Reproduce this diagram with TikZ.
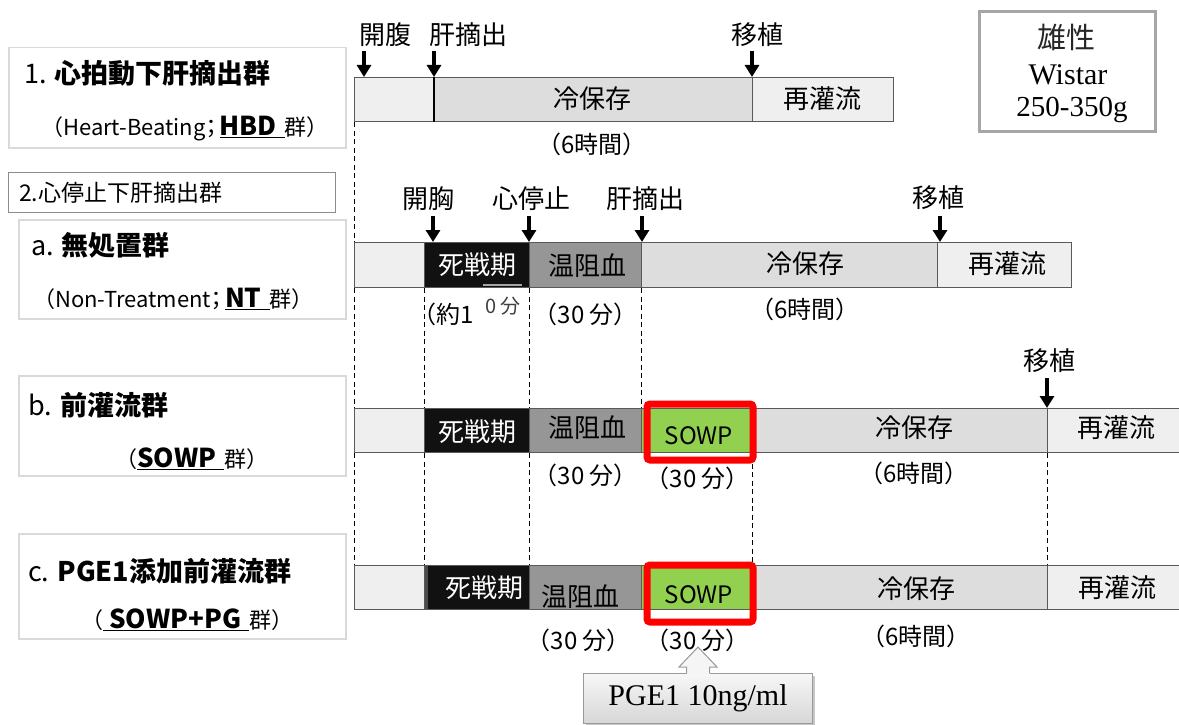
\documentclass[tikz,border=0pt]{standalone}
\usepackage{fontspec}
\setmainfont{Noto Sans CJK JP}[RawFeature=+halt]
\newfontfamily\serifrm{Liberation Serif}
\usetikzlibrary{arrows.meta,calc}
\definecolor{lightseg}{HTML}{EFEFEF}
\definecolor{coldseg}{HTML}{DDDDDD}
\definecolor{warmseg}{HTML}{969696}
\definecolor{agonal}{HTML}{111111}
\definecolor{sowp}{HTML}{92D050}
\definecolor{boxline}{HTML}{D9D9D9}
\newcommand\fsz[1]{\fontsize{#1}{#1}\selectfont}
\begin{document}
\begin{tikzpicture}[x=1pt,y=-1pt,
  seg/.style={draw=black!65, line width=1pt, inner sep=0pt, anchor=north west, minimum height=44pt},
  txt/.style={inner sep=0pt, font=\fsz{26}},
  paren/.style={inner sep=0pt, font=\fsz{24}},
  arr/.style={line width=3.6pt, -{Triangle[width=14pt,length=12pt]}},
  guide/.style={dash pattern=on 5pt off 3.5pt, line width=0.8pt},
  grpbox/.style={draw=boxline, line width=1.5pt, inner sep=0pt, anchor=north west},
  redbox/.style={draw=red, line width=7pt, rounded corners=3pt, inner sep=0pt, anchor=north west},
  head/.style={inner sep=0pt, anchor=west, font=\fsz{27}},
  sub/.style={inner sep=0pt, anchor=west, font=\fsz{22}}
]
\useasboundingbox (0,0) rectangle (1179,725);

% ---------------- left group boxes ----------------
\node[grpbox, minimum width=337pt, minimum height=100pt] (g1) at (8,47) {};
\node[head] (g1h) at (24,73) {1. \bfseries 心拍動下肝摘出群};
\node[sub] (g1s) at (52,129) {（Heart-Beating；\hspace{3pt}\underline{\bfseries\fsz{26}HBD\hspace{8pt}}群）};

\node[draw=black!45, line width=1pt, inner sep=0pt, anchor=north west, minimum width=327pt, minimum height=40pt] (g2) at (8,172) {};
\node[inner sep=0pt, anchor=west, font=\fsz{23}] (g2h) at (19,193) {2.心停止下肝摘出群};

\node[grpbox, minimum width=327pt, minimum height=99pt] (ga) at (18,219) {};
\node[head] (gah) at (31,245) {a. \bfseries 無処置群};
\node[sub] (gas) at (44,299) {（Non-Treatment；\hspace{3pt}\underline{\bfseries\fsz{26}NT\hspace{8pt}}群）};

\node[grpbox, minimum width=327pt, minimum height=100pt] (gb) at (18,375) {};
\node[head] (gbh) at (28,405) {b. \bfseries 前灌流群};
\node[sub] (gbs) at (126,459) {（\underline{\bfseries\fsz{26}SOWP\hspace{8pt}}群）};

\node[grpbox, minimum width=327pt, minimum height=105pt] (gc) at (18,533) {};
\node[head] (gch) at (28,571) {c. \bfseries PGE1添加前灌流群};
\node[sub] (gcs) at (92,620) {（\underline{\bfseries\fsz{26}\hspace{6pt}SOWP+PG\hspace{8pt}}群）};

% ---------------- Wistar box ----------------
\node[draw=black!35, line width=3pt, inner sep=0pt, anchor=north west, minimum width=176pt, minimum height=120pt] (rat) at (978,10) {};
\node[inner sep=0pt, font=\fsz{29}, text=black!85] (rat1) at (1066,37) {雄性};
\node[inner sep=0pt, font=\serifrm\fsz{30}] (rat2) at (1068,75) {Wistar};
\node[inner sep=0pt, font=\serifrm\fsz{29}] (rat3) at (1072,110) {250-350g};

% ---------------- Row 1 ----------------
\node[seg, fill=lightseg, minimum width=80pt] (r1a) at (354,77) {};
\node[seg, fill=coldseg, minimum width=318pt] (r1b) at (434,77) {};
\node[seg, fill=lightseg, minimum width=141pt] (r1c) at (752,77) {};
\draw[line width=2pt] (r1b.north west) -- (r1b.south west);
\node[txt] (t1b) at (592,99) {冷保存};
\node[txt] (t1c) at (822,99) {再灌流};
\node[paren] (p1b) at (592,144) {（6時間）};
\node[txt] (l1a) at (385,35) {開腹};
\node[txt] (l1b) at (468,35) {肝摘出};
\node[txt] (l1c) at (757,35) {移植};
\coordinate (k1a) at (364,51); \coordinate (k1b) at (434,51); \coordinate (k1c) at (752,51);
\draw[arr] (k1a) -- (k1a |- r1a.north);
\draw[arr] (k1b) -- (k1b |- r1a.north);
\draw[arr] (k1c) -- (k1c |- r1a.north);

% ---------------- Row a ----------------
\node[seg, fill=lightseg, minimum width=70pt, minimum height=45pt] (raa) at (354,242) {};
\node[seg, fill=agonal, minimum width=105pt, minimum height=45pt] (rab) at (424,242) {};
\node[seg, fill=warmseg, minimum width=112pt, minimum height=45pt] (rac) at (529,242) {};
\node[seg, fill=coldseg, minimum width=296pt, minimum height=45pt] (rad) at (641,242) {};
\node[seg, fill=lightseg, minimum width=134pt, minimum height=45pt] (rae) at (937,242) {};
\draw[black!35, line width=2pt] (483,285) -- (522,285);
\node[txt, text=white] (tab) at (477,265) {死戦期};
\node[txt] (tac) at (587,266) {温阻血};
\node[txt] (tad) at (805,264) {冷保存};
\node[txt] (tae) at (1007,264) {再灌流};
\node[paren, anchor=west] (pab) at (424,314) {（約1};
\node[inner sep=0pt, font=\fsz{20}, text=black!75] (pab2) at (503,306) {0 分};
\node[paren] (pac) at (586,314) {（30 分）};
\node[paren] (pad) at (805,309) {（6時間）};
\node[txt] (lab) at (428,199) {開胸};
\node[txt] (lac) at (531,199) {心停止};
\node[txt] (lad) at (645,199) {肝摘出};
\node[txt] (lae) at (938,198) {移植};
\coordinate (kab) at (433,216); \coordinate (kac) at (529,216);
\coordinate (kad) at (642,216); \coordinate (kae) at (940,216);
\draw[arr] (kab) -- (kab |- raa.north);
\draw[arr] (kac) -- (kac |- raa.north);
\draw[arr] (kad) -- (kad |- raa.north);
\draw[arr] (kae) -- (kae |- raa.north);

% ---------------- Row b ----------------
\node[seg, fill=lightseg, minimum width=70pt] (rba) at (354,408) {};
\node[seg, fill=agonal, minimum width=105pt] (rbb) at (424,408) {};
\node[seg, fill=warmseg, minimum width=112pt] (rbc) at (529,408) {};
\node[seg, fill=sowp, minimum width=111pt] (rbd) at (641,408) {};
\node[seg, fill=coldseg, minimum width=295pt] (rbe) at (752,408) {};
\node[seg, fill=lightseg, minimum width=133pt] (rbf) at (1047,408) {};
\node[redbox, minimum width=106pt, minimum height=56pt] (rbx) at (643.5,400.5) {};
\node[txt, text=white] (tbb) at (477,432) {死戦期};
\node[txt] (tbc) at (587,428) {温阻血};
\node[inner sep=0pt, font=\fsz{24}] (tbd) at (699,436) {SOWP};
\node[txt] (tbe) at (914,428) {冷保存};
\node[txt] (tbf) at (1116,428) {再灌流};
\node[paren] (pbc) at (586,475) {（30 分）};
\node[paren] (pbd) at (698,478) {（30 分）};
\node[paren] (pbe) at (914,473) {（6時間）};
\node[txt] (lbf) at (1049,361) {移植};
\coordinate (kbf) at (1047,378);
\draw[arr] (kbf) -- (kbf |- rba.north);

% ---------------- Row c ----------------
\node[seg, fill=lightseg, minimum width=70pt] (rca) at (354,565) {};
\node[seg, fill=black!70, minimum width=105pt] (rcb) at (424,565) {};
\fill[agonal] (428,565.5) rectangle (528.5,608.5);
\node[seg, fill=warmseg, minimum width=112pt] (rcc) at (529,565) {};
\node[seg, fill=sowp, minimum width=111pt] (rcd) at (641,565) {};
\node[seg, fill=coldseg, minimum width=295pt] (rce) at (752,565) {};
\node[seg, fill=lightseg, minimum width=133pt] (rcf) at (1047,565) {};
\node[redbox, minimum width=106pt, minimum height=57pt] (rcx) at (643.5,561.5) {};
\node[txt, text=white] (tcb) at (484,588) {死戦期};
\node[txt] (tcc) at (580,597) {温阻血};
\node[inner sep=0pt, font=\fsz{24}] (tcd) at (699,595) {SOWP};
\node[txt] (tce) at (916,589) {冷保存};
\node[txt] (tcf) at (1117,588) {再灌流};
\node[paren] (pcc) at (579,640) {（30 分）};
\node[paren] (pcd) at (698,640) {（30 分）};
\node[paren] (pce) at (916,636) {（6時間）};

% ---------------- guide lines ----------------
\draw[guide] (r1a.south west) -- (raa.north west);
\draw[guide] (raa.south west) -- (rba.north west);
\draw[guide] (rba.south west) -- (rca.north west);
\draw[guide] (rab.south west) -- (rbb.north west);
\draw[guide] (rbb.south west) -- (rcb.north west);
\draw[guide] (rac.south west) -- (rbc.north west);
\draw[guide] (rbc.south west) -- (rcc.north west);
\draw[guide] (rad.south west) -- (rbd.north west);
\draw[guide] (rbe.south west |- rbx.south) -- (rbe.south west |- rcx.north);
\draw[guide] (rbf.south west) -- (rcf.north west);

% ---------------- PGE1 callout ----------------
\fill[black!22] (586,676) rectangle (815,726);
\node[draw=black!40, top color=black!3, bottom color=black!16, line width=1pt, inner sep=0pt,
      anchor=north west, minimum width=229pt, minimum height=50pt, font=\serifrm\fsz{30}] (pge) at (583,673) {PGE1 10ng/ml};
\fill[black!4] ($(pge.north)+(-11.5,1)$) -- ++(0,-7) -- ++(-7.5,0) -- ($(pge.north)+(0,-26)$) -- ($(pge.north)+(19,-6)$) -- ($(pge.north)+(11.5,-6)$) -- ($(pge.north)+(11.5,1)$) -- cycle;
\draw[black!40, line width=1pt, line join=miter] ($(pge.north)+(-11.5,0)$) -- ++(0,-6) -- ++(-7.5,0) -- ($(pge.north)+(0,-26)$) -- ($(pge.north)+(19,-6)$) -- ($(pge.north)+(11.5,-6)$) -- ($(pge.north)+(11.5,0)$);
\end{tikzpicture}
\end{document}
